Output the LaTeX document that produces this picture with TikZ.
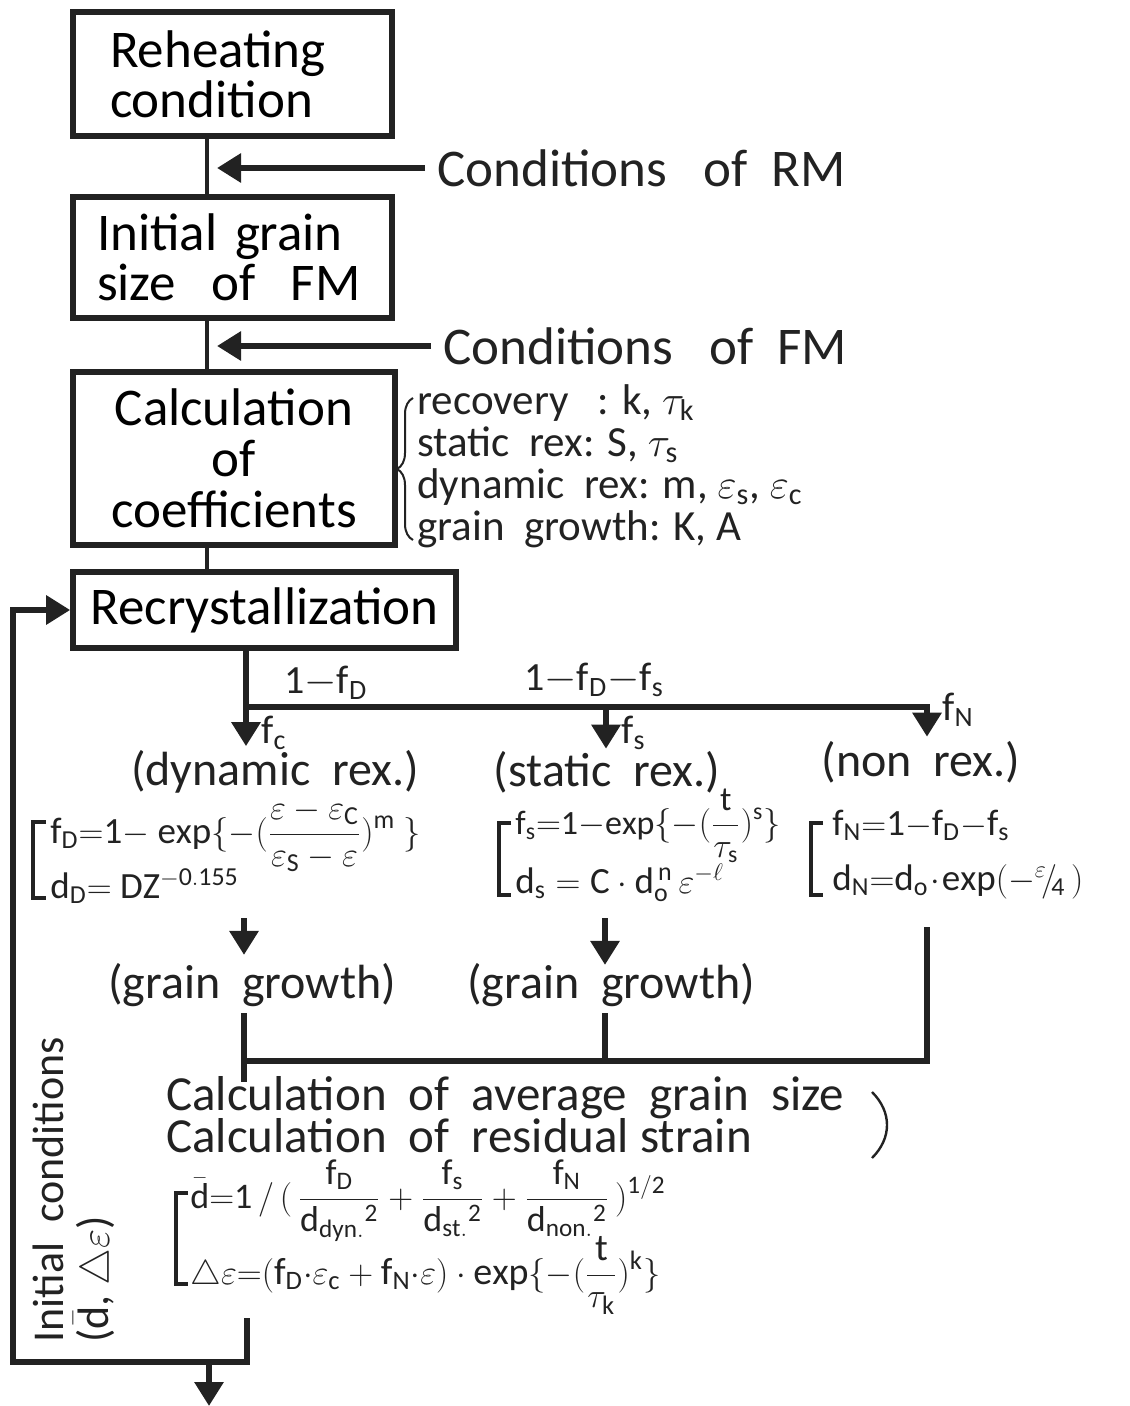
\documentclass[tikz,border=0pt]{standalone}
\usepackage{fontspec}
\setmainfont{Carlito}
\usetikzlibrary{arrows.meta,decorations.pathreplacing}
\definecolor{FigureInk}{HTML}{222222}

\begin{document}
\begin{tikzpicture}[x=0.5pt,y=-0.5pt,line join=miter,
  box/.style={draw=FigureInk,line width=2.8pt,inner sep=0pt,font=\fontsize{26.5}{25}\selectfont},
  link/.style={FigureInk,line width=2.2pt},
  flow/.style={FigureInk,line width=3.2pt},
  tip/.style={flow,-{Triangle[length=12pt,width=14pt]}},
  brk/.style={FigureInk,line width=2.4pt},
  lbl/.style={inner sep=0pt,text=FigureInk,font=\fontsize{24}{24}\selectfont},
  lst/.style={inner sep=0pt,text=FigureInk,font=\fontsize{21.5}{21}\selectfont},
  eqn/.style={inner sep=0pt,anchor=base west,text=FigureInk,font=\fontsize{18.5}{20}\selectfont}]
  \useasboundingbox (0,0) rectangle (1129,1406);
  % main column
  \coordinate (c) at (207,0);
  \node[box,minimum width=159.5pt,minimum height=62pt,text width=122.5pt,align=left] (reheat) at (232.5,74) {Reheating\\condition};
  \node[box,minimum width=159.5pt,minimum height=60.5pt,text width=135.5pt,align=left] (init) at (232.5,257.5) {Initial grain\\size~ of~ FM};
  \node[box,minimum width=161pt,minimum height=86.5pt,align=center,font=\fontsize{26.5}{25.5}\selectfont] (coef) at (234,458.5) {Calculation\\of\\coefficients};
  \node[box,minimum width=191.5pt,minimum height=38pt] (recr) at (264.5,610) {Recrystallization};
  \draw[link] (reheat.south -| c) -- (init.north -| c);
  \draw[link] (init.south -| c) -- (coef.north -| c);
  \draw[link] (coef.south -| c) -- (recr.north -| c);
  \node[lbl,anchor=west,font=\fontsize{26.5}{26}\selectfont] (rm) at (437,168) {Conditions~~ of~ RM};
  \node[lbl,anchor=west,font=\fontsize{26.5}{26}\selectfont] (fm) at (443,346) {Conditions~~ of~ FM};
  \draw[tip,shorten >=5pt] ([xshift=-6pt]rm.west) -- (rm.west -| c);
  \draw[tip,shorten >=5pt] ([xshift=-6pt]fm.west) -- (fm.west -| c);
  % coefficients
  \draw[FigureInk,line width=1pt,decorate,decoration={brace,amplitude=8pt}] (413,540) -- (413,398);
  \node[lst,anchor=north west,align=left] (coeflist) at (417,384)
    {recovery~~ : k, $\tau_{\mathrm{k}}$\\static~ rex: S, $\tau_{\mathrm{s}}$\\dynamic~ rex: m, $\varepsilon_{\mathrm{s}}$, $\varepsilon_{\mathrm{c}}$\\grain~ growth: K, A};
  % branches
  \coordinate (br) at (246,707);\coordinate (xs) at (606,707);\coordinate (xn) at (927,707);
  \node[lbl] (dyn) at (275,772) {(dynamic~ rex.)};
  \node[lbl] (st) at (607,772) {(static~ rex.)};
  \node[lbl] (nr) at (921,762) {(non~ rex.)};
  \draw[tip] (recr.south -| br) -- ([yshift=2pt]br |- dyn.north);
  \draw[tip] (xs) -- ([yshift=1pt]xs |- st.north);
  \draw[tip] (br) -- (xn) -- ([yshift=2pt]xn |- nr.north);
  \node[eqn,font=\fontsize{20}{20}\selectfont] (lD) at (284,693) {$\mathrm{1{-}f_D}$};
  \node[eqn,font=\fontsize{20}{20}\selectfont] (lDS) at (524,690) {$\mathrm{1{-}f_D{-}f_s}$};
  \node[eqn,font=\fontsize{20}{20}\selectfont] (lN) at (942,720) {$\mathrm{f_N}$};
  \node[eqn,font=\fontsize{20}{20}\selectfont] (lc) at (261,743) {$\mathrm{f_c}$};
  \node[eqn,font=\fontsize{20}{20}\selectfont] (ls) at (621,743) {$\mathrm{f_s}$};
  % rate equations
  \draw[brk] (46,822) -- (33,822) -- (33,898) -- (46,898);
  \draw[brk] (511,823) -- (499,823) -- (499,895) -- (511,895);
  \draw[brk] (823,823) -- (811,823) -- (811,895) -- (823,895);
  \node[eqn] (eqD1) at (50,843) {$\displaystyle\mathrm{f_D{=}1{-}\ exp\{{-}(\frac{\varepsilon-\varepsilon_C}{\varepsilon_S-\varepsilon})^m\ \}}$};
  \node[eqn] (eqD2) at (50,898) {$\mathrm{d_D{=}\ DZ^{-0.155}}$};
  \node[eqn,font=\fontsize{17}{20}\selectfont] (eqS1) at (515,834) {$\displaystyle\mathrm{f_s{=}1{-}exp\{{-}(\frac{t}{\tau_s})^s\}}$};
  \node[eqn] (eqS2) at (515,893) {$\mathrm{d_s=C\cdot d_o^{\,n}\,\varepsilon^{-\ell}}$};
  \node[eqn] (eqN1) at (832,835) {$\mathrm{f_N{=}1{-}f_D{-}f_s}$};
  \node[eqn] (eqN2) at (832,890) {$\mathrm{d_N{=}d_o\!\cdot\! exp({-}{}^{\varepsilon}\!/\!{}_4\,)}$};
  % grain growth
  \coordinate (gD) at (244,918);\coordinate (gS) at (605,918);\coordinate (nN) at (927,927);
  \node[lbl] (gg1) at (252,985) {(grain~ growth)};
  \node[lbl] (gg2) at (611,985) {(grain~ growth)};
  \draw[tip] (gD) -- ([yshift=4pt]gD |- gg1.north);
  \draw[tip] (gS) -- ([yshift=-1pt]gS |- gg2.north);
  \coordinate (jD) at (244,1061);\coordinate (jS) at (605,1061);\coordinate (jD2) at (244,1082);
  \draw[flow] ([yshift=-3pt]gg1.south -| jD) -- (jD2);
  \draw[flow] ([yshift=-3pt]gg2.south -| jS) -- (jS);
  \draw[flow] (nN) -- (nN |- jD) -- (jD);
  % average grain size and residual strain
  \node[lbl,anchor=base west,font=\fontsize{24.5}{24}\selectfont] (avg) at (166,1110) {Calculation~ of~ average~ grain~ size};
  \node[lbl,anchor=base west,font=\fontsize{24.5}{24}\selectfont] (res) at (166,1152) {Calculation~ of~ residual strain};
  \draw[FigureInk,line width=1.2pt] (872,1092) .. controls (892,1112) and (892,1138) .. (872,1158);
  \draw[brk] (188,1193) -- (176,1193) -- (176,1284) -- (188,1284);
  \node[eqn,font=\fontsize{18}{20}\selectfont] (dbar) at (190,1208) {$\displaystyle\bar{\mathrm{d}}\mathrm{{=}1\,/\,(\,\frac{f_D}{d_{dyn.}{}^{2}}+\frac{f_s}{d_{st.}{}^{2}}+\frac{f_N}{d_{non.}{}^{2}}\,)^{1/2}}$};
  \node[eqn,font=\fontsize{19}{20}\selectfont] (dstr) at (190,1284) {$\displaystyle\triangle\varepsilon\mathrm{{=}(f_D{\cdot}\varepsilon_c+f_N{\cdot}\varepsilon)\cdot exp\{{-}(\frac{t}{\tau_k})^k\}}$};
  % feedback loop
  \coordinate (out) at (247,1318);\coordinate (turn) at (247,1362);\coordinate (loop) at (13,1362);
  \coordinate (exit) at (209,1362);
  \draw[tip] (out) -- (turn) -- (loop) |- (recr.west);
  \draw[tip] (exit) -- ++(0,44);
  \node[lbl,rotate=90,anchor=north west,align=left,font=\fontsize{22}{22.5}\selectfont] (initc) at (33,1343) {Initial~ conditions\\($\bar{\mathrm{d}}$, $\triangle\varepsilon$)};
\end{tikzpicture}
\end{document}
